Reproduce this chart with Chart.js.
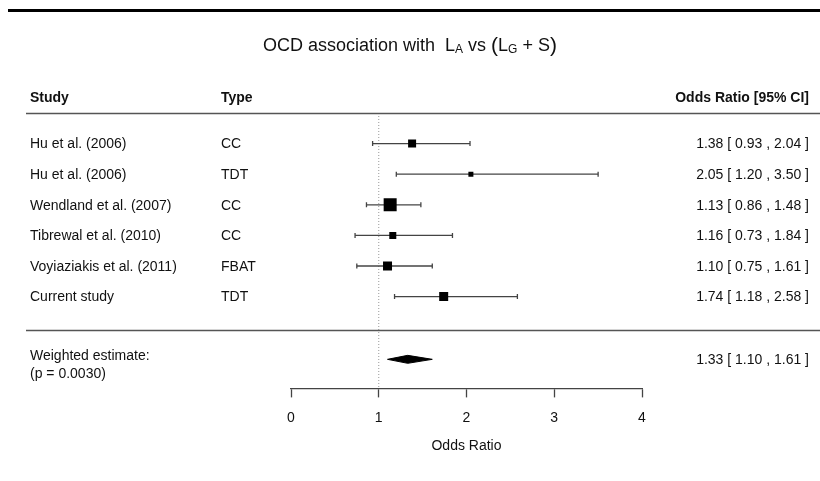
<!DOCTYPE html>
<html lang="en">
<head>
  <meta charset="UTF-8">
  <title>OCD association forest plot</title>
  <script src="https://cdn.jsdelivr.net/npm/chart.js"></script>
  <style>
    body { margin: 0; background: #fff; }
    #wrap { width: 820px; height: 481px; }
  </style>
</head>
<body>
  <div id="wrap"><canvas id="forestChart" width="820" height="481"></canvas></div>
  <script>
    // study data
    const studies = ['Hu et al. (2006)', 'Hu et al. (2006)', 'Wendland et al. (2007)', 'Tibrewal et al. (2010)', 'Voyiaziakis et al. (2011)', 'Current study'];
    const types = ['CC', 'TDT', 'CC', 'CC', 'FBAT', 'TDT'];
    const oddsRatios = [1.38, 2.05, 1.13, 1.16, 1.10, 1.74];
    const ciLow = [0.93, 1.20, 0.86, 0.73, 0.75, 1.18];
    const ciHigh = [2.04, 3.50, 1.48, 1.84, 1.61, 2.58];
    const weights = [8, 5, 13, 7, 9, 9];
    const pooledOR = 1.33;
    const pooledLow = 1.10;
    const pooledHigh = 1.61;
    const pValue = '0.0030';
    const xTicks = [0, 1, 2, 3, 4];

    const font = '"Liberation Sans", Arial, sans-serif';
    const rows = studies.map((s, i) => i + 1);
    const pooledRow = 8.05;
    const fmt = (o, l, h) => o.toFixed(2) + ' [ ' + l.toFixed(2) + ' , ' + h.toFixed(2) + ' ]';

    const ciSets = studies.map((s, i) => ({
      data: [{x: ciLow[i], y: rows[i]}, {x: ciHigh[i], y: rows[i]}],
      showLine: true,
      borderColor: '#444',
      borderWidth: 1.3,
      pointStyle: 'line',
      rotation: 90,
      pointRadius: 2.5,
      pointBorderColor: '#444',
      pointBorderWidth: 1.3,
      order: 5
    }));

    const d = 0.13;
    const datasets = [
      {
        data: [{x: 1, y: 0}, {x: 1, y: 9}],
        showLine: true,
        borderColor: '#999',
        borderWidth: 1,
        borderDash: [1, 2],
        pointRadius: 0,
        order: 10
      },
      ...ciSets,
      {
        data: oddsRatios.map((o, i) => ({x: o, y: rows[i]})),
        pointStyle: 'rect',
        pointRadius: weights.map(w => w / Math.SQRT2),
        backgroundColor: '#000',
        borderColor: '#000',
        borderWidth: 0,
        order: 1
      },
      {
        data: [
          {x: pooledLow, y: pooledRow},
          {x: pooledOR, y: pooledRow - d},
          {x: pooledHigh, y: pooledRow},
          {x: pooledOR, y: pooledRow + d},
          {x: pooledLow, y: pooledRow}
        ],
        showLine: true,
        fill: 'shape',
        backgroundColor: '#000',
        borderColor: '#000',
        borderWidth: 1,
        pointRadius: 0,
        order: 1
      }
    ];

    const textPlugin = {
      id: 'forestText',
      beforeDraw(chart) {
        const c = chart.ctx;
        c.save();
        c.fillStyle = '#fff';
        c.fillRect(0, 0, chart.width, chart.height);
        c.restore();
      },
      afterDraw(chart) {
        const c = chart.ctx;
        const y = chart.scales.y;
        c.save();
        // top rule
        c.fillStyle = '#000';
        c.fillRect(8, 9, 812, 3);

        // title with subscripts
        const parts = [
          ['OCD association with  L', '18px ' + font, 0],
          ['A', '12px ' + font, 4],
          [' vs ', '18px ' + font, 0],
          ['(', '21px ' + font, 0],
          ['L', '18px ' + font, 0],
          ['G', '12px ' + font, 4],
          [' + S', '18px ' + font, 0],
          [')', '21px ' + font, 0]
        ];
        let total = 0;
        parts.forEach(p => { c.font = p[1]; total += c.measureText(p[0]).width; });
        let x = 410 - total / 2;
        c.textBaseline = 'middle';
        c.textAlign = 'left';
        c.fillStyle = '#111';
        parts.forEach(p => {
          c.font = p[1];
          c.fillText(p[0], x, 46 + p[2]);
          x += c.measureText(p[0]).width;
        });

        // header
        const hy = y.getPixelForValue(-0.5);
        c.font = 'bold 14px ' + font;
        c.fillText('Study', 30, hy);
        c.fillText('Type', 221, hy);
        c.textAlign = 'right';
        c.fillText('Odds Ratio [95% CI]', 809, hy);

        // rules
        c.strokeStyle = '#555';
        c.lineWidth = 1.5;
        [0, 7.1].forEach(v => {
          const ly = Math.round(y.getPixelForValue(v)) + 0.5;
          c.beginPath();
          c.moveTo(26, ly);
          c.lineTo(820, ly);
          c.stroke();
        });

        // rows
        c.font = '14px ' + font;
        studies.forEach((s, i) => {
          const ry = y.getPixelForValue(rows[i]) + 1;
          c.textAlign = 'left';
          c.fillText(s, 30, ry);
          c.fillText(types[i], 221, ry);
          c.textAlign = 'right';
          c.fillText(fmt(oddsRatios[i], ciLow[i], ciHigh[i]), 809, ry);
        });

        // pooled
        const py = y.getPixelForValue(pooledRow);
        c.textAlign = 'left';
        c.fillText('Weighted estimate:', 30, py - 3);
        c.fillText('(p = ' + pValue + ')', 30, py + 15);
        c.textAlign = 'right';
        c.fillText(fmt(pooledOR, pooledLow, pooledHigh), 809, py + 1);
        c.restore();
      }
    };

    new Chart(document.getElementById('forestChart'), {
      type: 'scatter',
      data: { datasets: datasets },
      options: {
        responsive: false,
        animation: false,
        events: [],
        layout: { padding: { left: 291, right: 178, top: 113, bottom: 26 } },
        plugins: {
          legend: { display: false },
          tooltip: { enabled: false }
        },
        scales: {
          x: {
            type: 'linear',
            min: 0,
            max: 4,
            afterBuildTicks: axis => { axis.ticks = xTicks.map(v => ({value: v})); },
            grid: {
              drawOnChartArea: false,
              drawTicks: true,
              tickLength: 9,
              color: '#444',
              tickWidth: 1.3
            },
            border: { display: true, color: '#444', width: 1.3 },
            ticks: {
              padding: 12,
              color: '#111',
              font: { family: font, size: 14 }
            },
            title: {
              display: true,
              text: 'Odds Ratio',
              color: '#111',
              padding: { top: 0, bottom: 0 },
              font: { family: font, size: 14 }
            }
          },
          y: {
            type: 'linear',
            display: false,
            reverse: true,
            min: 0,
            max: 9
          }
        }
      },
      plugins: [textPlugin]
    });
  </script>
</body>
</html>
